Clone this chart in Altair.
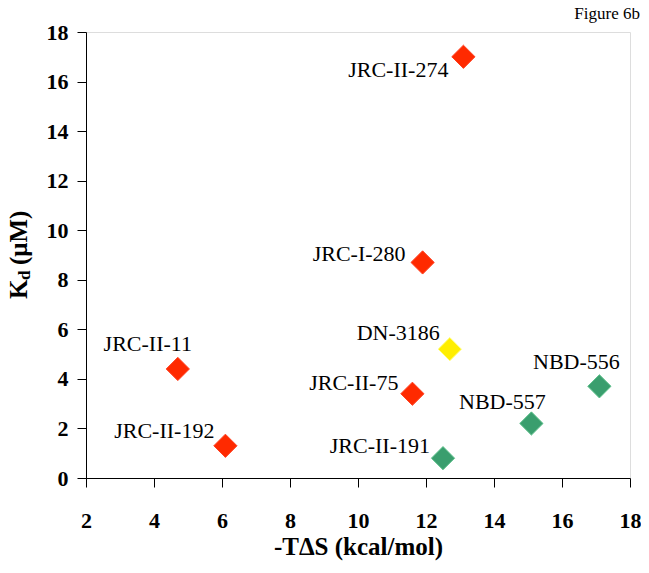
import altair as alt
import pandas as pd

# ---- data ----
names = ["JRC-II-274", "JRC-I-280", "DN-3186", "JRC-II-75", "JRC-II-11",
         "JRC-II-192", "JRC-II-191", "NBD-557", "NBD-556"]
minus_tds = [13.1, 11.9, 12.7, 11.6, 4.7, 6.1, 12.5, 15.1, 17.1]
kd = [17.0, 8.7, 5.2, 3.4, 4.4, 1.3, 0.8, 2.2, 3.7]
groups = ["red", "red", "yellow", "red", "red", "red", "green", "green", "green"]
x_ticks = [2, 4, 6, 8, 10, 12, 14, 16, 18]
y_ticks = [0, 2, 4, 6, 8, 10, 12, 14, 16, 18]

df = pd.DataFrame({"name": names, "tds": minus_tds, "kd": kd, "group": groups})

# ---- style ----
FONT = "'Times New Roman', 'Liberation Serif', serif"
W, H = 544, 446
group_domain = ["red", "yellow", "green"]
group_colors = ["#FF2A00", "#FFEE00", "#3A9E6E"]
group_strokes = ["#FF4020", "#FFFF80", "#5CC08A"]

# label placement (align, dx, dy) relative to each diamond
label_style = {
    "JRC-II-274": ("right", -15, 13),
    "JRC-I-280": ("right", -17, -8),
    "DN-3186": ("right", -10, -16),
    "JRC-II-75": ("right", -14, -11),
    "JRC-II-11": ("center", -30, -25),
    "JRC-II-192": ("right", -11, -15),
    "JRC-II-191": ("right", -13, -12),
    "NBD-557": ("center", -29, -21),
    "NBD-556": ("center", -23, -24),
}

x_scale = alt.Scale(domain=[2, 18], nice=False, zero=False)
y_scale = alt.Scale(domain=[0, 18], nice=False, zero=False)

x_axis = alt.Axis(
    values=x_ticks, grid=False, domainColor="#000", tickColor="#000",
    tickSize=9, labelFont=FONT, labelFontSize=22, labelFontWeight="bold",
    labelColor="#000", labelPadding=23, labelFlush=False,
    title="-TΔS (kcal/mol)", titleFont=FONT, titleFontSize=25,
    titleFontWeight="bold", titleColor="#000", titleBaseline="middle",
    titleX=W / 2, titleY=68, titleAlign="center",
)
y_axis = alt.Axis(
    values=y_ticks, grid=False, domainColor="#000", tickColor="#000",
    tickSize=9, labelFont=FONT, labelFontSize=22, labelFontWeight="bold",
    labelColor="#000", labelPadding=9, labelFlush=False, title=None,
)

points = alt.Chart(df).mark_point(
    shape="diamond", filled=True, size=540, opacity=1, strokeWidth=1
).encode(
    x=alt.X("tds:Q", scale=x_scale, axis=x_axis),
    y=alt.Y("kd:Q", scale=y_scale, axis=y_axis),
    fill=alt.Fill("group:N", scale=alt.Scale(domain=group_domain, range=group_colors), legend=None),
    stroke=alt.Stroke("group:N", scale=alt.Scale(domain=group_domain, range=group_strokes), legend=None),
)

label_layers = []
for n in names:
    al, dx, dy = label_style[n]
    label_layers.append(
        alt.Chart(df).transform_filter(alt.datum.name == n).mark_text(
            font=FONT, fontSize=22, color="#000", align=al, baseline="middle",
            dx=dx, dy=dy,
        ).encode(x=alt.X("tds:Q", scale=x_scale), y=alt.Y("kd:Q", scale=y_scale), text="name:N")
    )


def annotation(txt, size, xpos, ypos, weight="bold", angle=0, align="left", baseline="middle"):
    return alt.Chart(pd.DataFrame({"t": [txt]})).mark_text(
        font=FONT, fontSize=size, fontWeight=weight, color="#000",
        angle=angle, align=align, baseline=baseline,
    ).encode(text="t:N", x=alt.value(xpos), y=alt.value(ypos))


# y axis title "Kd (μM)" with subscript d, built from rotated text pieces
ytitle = [
    annotation("K", 25, -67, 267, angle=270),
    annotation("d", 17, -61, 248, angle=270),
    annotation("(μM)", 25, -67, 233, angle=270),
]
fig_label = annotation("Figure 6b", 17, W + 10, -13, weight="normal",
                       align="right", baseline="alphabetic")

chart = alt.layer(points, *label_layers, *ytitle, fig_label).properties(
    width=W, height=H,
    autosize=alt.AutoSizeParams(type="none"),
    padding={"left": 78, "top": 24, "right": 11, "bottom": 87},
).configure_view(stroke="#a8a8a8", strokeWidth=1).configure(background="white")

chart.save("out.html", embed_options={"renderer": "svg", "actions": False})
